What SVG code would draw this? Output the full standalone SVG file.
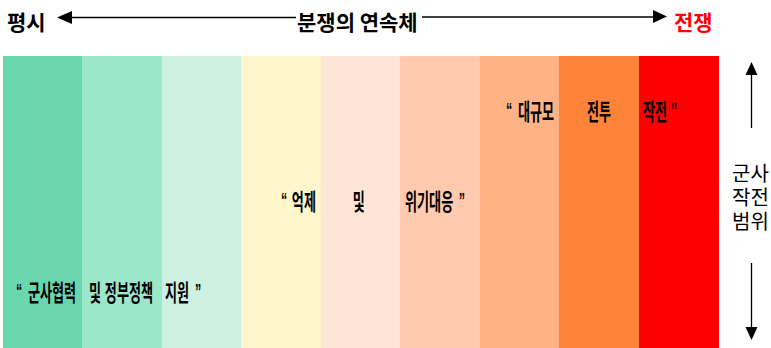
<svg xmlns="http://www.w3.org/2000/svg" width="771" height="348" viewBox="0 0 771 348">
<style>
.t{font-family:"Noto Sans CJK KR","Liberation Sans",sans-serif;font-size:21px;font-weight:bold;fill:#000}
.s{font-family:"Liberation Sans","Noto Sans CJK KR",sans-serif;font-size:20px;fill:#000}
.b{font-family:"Noto Sans CJK KR","Liberation Sans",sans-serif;font-size:23px;font-weight:bold;fill:#000}
.q{font-family:"Liberation Sans",sans-serif;font-size:22px;font-weight:bold}
.ln{stroke:#000;stroke-width:1.3;fill:none}
</style>
<rect width="771" height="348" fill="#fff"/>
<g id="bands">
<rect x="3" y="56" width="79" height="292" fill="#6ad6ae"/>
<rect x="82" y="56" width="80" height="292" fill="#9ce6c9"/>
<rect x="162" y="56" width="79" height="292" fill="#ccf1e2"/>
<rect x="241" y="56" width="80" height="292" fill="#fff6cc"/>
<rect x="321" y="56" width="79" height="292" fill="#ffe5d6"/>
<rect x="400" y="56" width="80" height="292" fill="#ffcaad"/>
<rect x="480" y="56" width="79" height="292" fill="#ffb385"/>
<rect x="559" y="56" width="80" height="292" fill="#ff8339"/>
<rect x="639" y="56" width="80" height="292" fill="#ff0000"/>
</g>
<g id="peace"><text class="t" x="7" y="30">평시</text></g>
<g id="continuum"><text class="t" x="297" y="30">분쟁의 연속체</text></g>
<g id="war"><text class="t" x="674" y="30" style="fill:#ff0000">전쟁</text></g>
<g id="scope">
<text class="s"><tspan x="732" y="181">군사</tspan><tspan x="732" y="205">작전</tspan><tspan x="732" y="229">범위</tspan></text>
</g>
<g id="label-support">
<text class="b" transform="scale(0.57,1)"><tspan class="q" x="28" y="299">“</tspan><tspan x="49" y="301">군사협력</tspan><tspan x="156" y="301">및</tspan><tspan x="184" y="301">정부정책</tspan><tspan x="289.5" y="301">지원</tspan><tspan class="q" x="342" y="299">”</tspan></text>
</g>
<g id="label-deterrence">
<text class="b" transform="scale(0.57,1)"><tspan class="q" x="493" y="208">“</tspan><tspan x="512" y="210">억제</tspan><tspan x="619" y="210">및</tspan><tspan x="710.5" y="210">위기대응</tspan><tspan class="q" x="805" y="208">”</tspan></text>
</g>
<g id="label-combat">
<text class="b" transform="scale(0.57,1)"><tspan class="q" x="887.7" y="118">“</tspan><tspan x="908.8" y="120">대규모</tspan><tspan x="1029.8" y="120">전투</tspan><tspan x="1128" y="120">작전</tspan><tspan class="q" x="1177" y="118">”</tspan></text>
</g>
<g id="connectors">
<line class="ln" x1="72" y1="17.5" x2="296" y2="17.5"/>
<polygon points="57,17.5 72,11 72,24" fill="#000"/>
<line class="ln" x1="422" y1="17" x2="653" y2="17"/>
<polygon points="667,16.5 653,10 653,23" fill="#000"/>
<line class="ln" x1="751.5" y1="75" x2="751.5" y2="128"/>
<polygon points="751.5,62 745.5,75 757.5,75" fill="#000"/>
<line class="ln" x1="751.5" y1="263" x2="751.5" y2="327"/>
<polygon points="751.5,340 745.5,327 757.5,327" fill="#000"/>
</g>
</svg>
